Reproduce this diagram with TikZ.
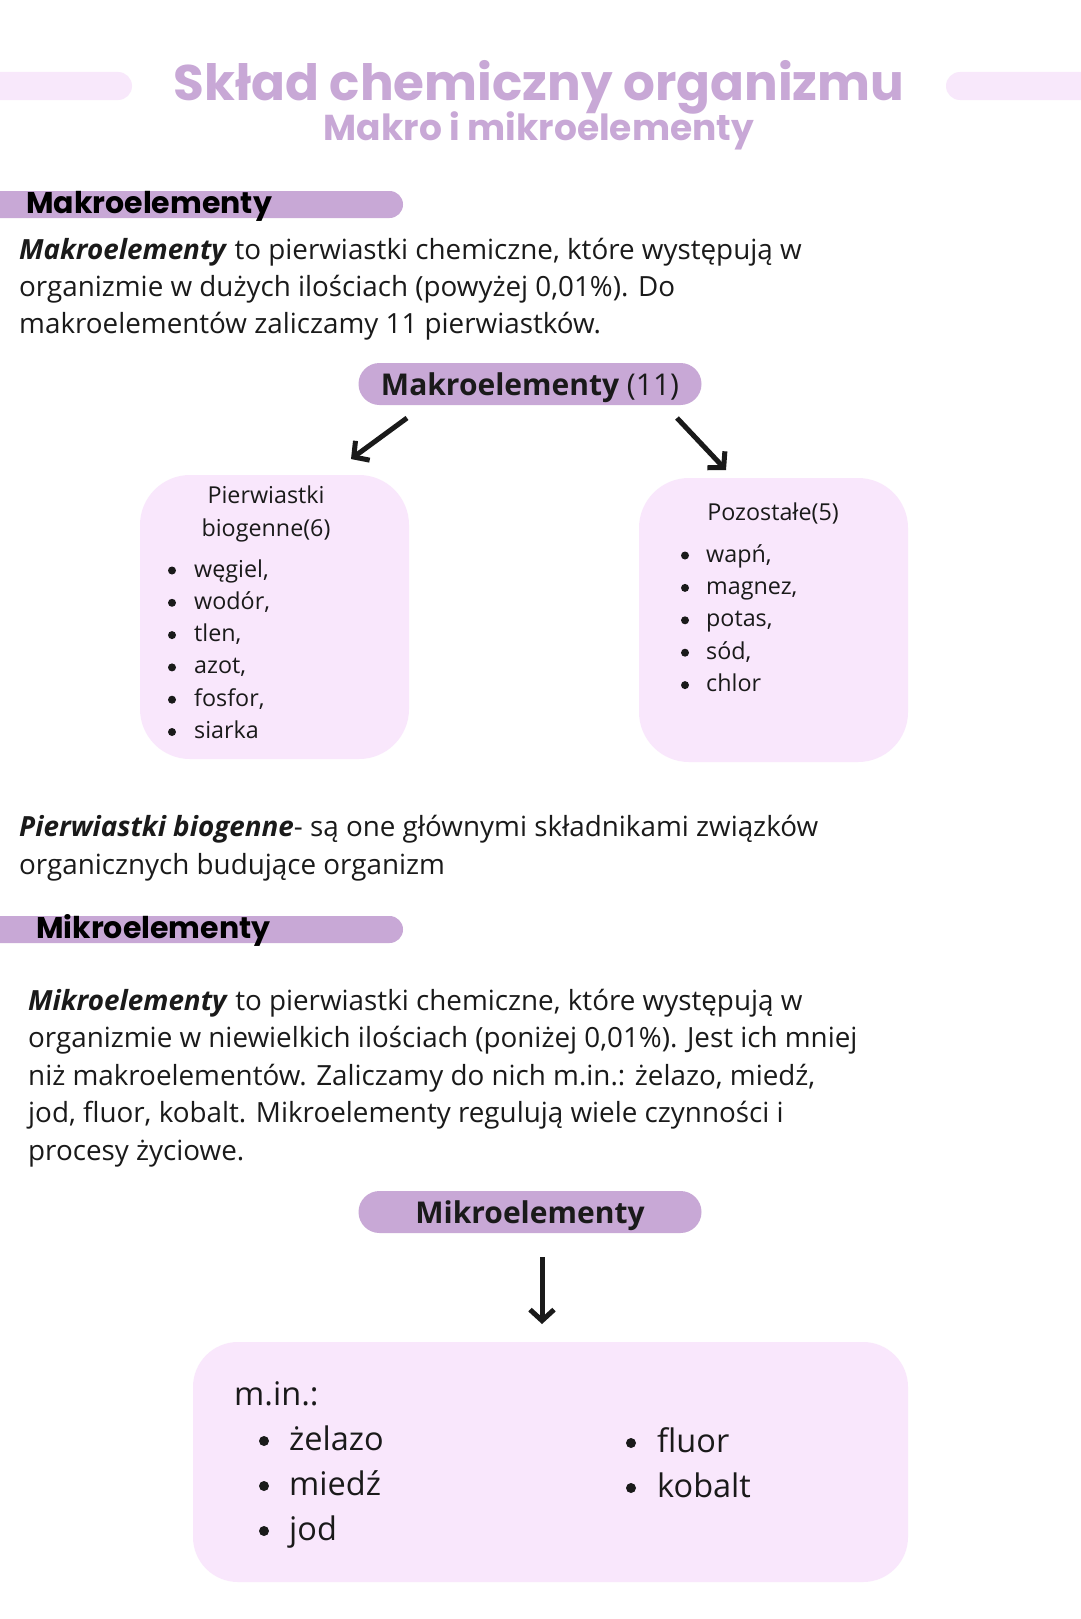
\documentclass[tikz,border=0pt]{standalone}
\usepackage{fontspec}
\setmainfont{Open Sans}
\newfontfamily\headfont{Poppins}
\usepackage{xcolor}
\usetikzlibrary{arrows.meta, positioning}

\definecolor{lilac}{HTML}{C8A8D6}
\definecolor{lilaclight}{HTML}{F9E7FC}
\definecolor{titlepink}{HTML}{F8E8FB}
\definecolor{ink}{HTML}{1A1A1A}

\tikzset{
  bar/.style={fill=lilac, rounded corners=13.5pt},
  pill/.style={fill=lilac, rounded corners=21pt, minimum width=343pt, minimum height=42pt,
    inner sep=0pt, text height=28pt, text depth=6pt, text=ink, font=\fontsize{30}{34}\selectfont},
  softbox/.style={fill=lilaclight, rounded corners=50pt, inner sep=0pt},
  arr/.style={-{Straight Barb[length=11pt, width=24pt]}, line width=5pt, ink},
  body/.style={anchor=base west, inner sep=0pt, text=ink, font=\fontsize{27.8}{37}\selectfont},
  small/.style={inner sep=0pt, text=ink, font=\fontsize{23.3}{32}\selectfont},
  large/.style={inner sep=0pt, text=ink, font=\fontsize{32.5}{44}\selectfont},
  dot/.style={circle, fill=ink, inner sep=0pt, minimum size=#1},
  head/.style={anchor=base west, inner sep=0pt, text=black, font=\headfont\bfseries\fontsize{30}{34}\selectfont}
}

\begin{document}
\begin{tikzpicture}[x=1pt, y=-1pt]
  \useasboundingbox[fill=white] (0,0) rectangle (1080,1619);

  % title
  \fill[titlepink, rounded corners=14pt] (-30,72) rectangle (132,100);
  \fill[titlepink, rounded corners=14pt] (946,72) rectangle (1110,100);
  \node[anchor=base, inner sep=0pt, text=lilac, font=\headfont\bfseries\fontsize{50}{56}\selectfont]
      (title) at (539,100) {Skład chemiczny organizmu};
  \node[anchor=base, inner sep=0pt, text=lilac, font=\headfont\bfseries\fontsize{36}{40}\selectfont]
      (subtitle) at (539,140) {Makro i mikroelementy};

  % makroelementy
  \fill[bar] (-30,191) rectangle (403,218);
  \node[head] (hmakro) at (26,213) {Makroelementy};

  \foreach \txt [count=\i] in {
      {\textbf{\textit{Makroelementy}} to pierwiastki chemiczne, które występują w},
      {organizmie w dużych ilościach (powyżej 0,01\%). Do},
      {makroelementów zaliczamy 11 pierwiastków.}}
    \node[body] (pmakro-\i) at (19,{259+37.3*(\i-1)}) {\txt};

  \node[pill] (makro) at (530,384) {\textbf{Makroelementy} (11)};

  \node[softbox, minimum width=269pt, minimum height=284pt] (biobox) at (274.5,617) {};
  \node[softbox, minimum width=269pt, minimum height=284pt] (restbox) at (773.5,620) {};

  \coordinate (la) at (407,418);
  \coordinate (lb) at (351,459);
  \coordinate (ra) at (677,418);
  \coordinate (rb) at (726,470);
  \draw[arr] (la) -- (lb);
  \draw[arr] (ra) -- (rb);

  \node[small, anchor=base] (biotitle) at (266,503) {Pierwiastki};
  \node[small, anchor=base] (biotitle2) at (266,536) {biogenne(6)};
  \foreach \elem [count=\i] in {{węgiel,}, {wodór,}, {tlen,}, {azot,}, {fosfor,}, {siarka}} {
    \node[dot=8pt] (biob-\i) at (172,{577-6.5+32.3*(\i-1)}) {};
    \node[small, anchor=base west] (bio-\i) at (194,{577+32.3*(\i-1)}) {\elem};
  }

  \node[small, anchor=base] (resttitle) at (773,520) {Pozostałe(5)};
  \foreach \elem [count=\i] in {{wapń,}, {magnez,}, {potas,}, {sód,}, {chlor}} {
    \node[dot=8pt] (restb-\i) at (685,{562-6.5+32.4*(\i-1)}) {};
    \node[small, anchor=base west] (rest-\i) at (706,{562+32.4*(\i-1)}) {\elem};
  }

  \foreach \txt [count=\i] in {
      {\textbf{\textit{Pierwiastki biogenne}}- są one głównymi składnikami związków},
      {organicznych budujące organizm}}
    \node[body] (pbio-\i) at (19,{836+38*(\i-1)}) {\txt};

  % mikroelementy
  \fill[bar] (-30,916) rectangle (403,943);
  \node[head] (hmikro) at (36,938) {Mikroelementy};

  \foreach \txt [count=\i] in {
      {\textbf{\textit{Mikroelementy}} to pierwiastki chemiczne, które występują w},
      {organizmie w niewielkich ilościach (poniżej 0,01\%). Jest ich mniej},
      {niż makroelementów. Zaliczamy do nich m.in.: żelazo, miedź,},
      {jod, fluor, kobalt. Mikroelementy regulują wiele czynności i},
      {procesy życiowe.}}
    \node[body] (pmikro-\i) at (28,{1010+37.5*(\i-1)}) {\txt};

  \node[pill] (mikro) at (530,1212) {\textbf{Mikroelementy}};

  \coordinate (da) at (542,1257);
  \coordinate (db) at (542,1324);
  \draw[arr] (da) -- (db);

  \node[softbox, rounded corners=45pt, minimum width=715pt, minimum height=240pt] (mikrobox) at (550.5,1462) {};
  \node[large, anchor=base west] (minus) at (234,1405) {m.in.:};
  \foreach \elem [count=\i] in {żelazo, miedź, jod} {
    \node[dot=10pt] (mikb-\i) at (264,{1450-9+45*(\i-1)}) {};
    \node[large, anchor=base west] (mik-\i) at (289,{1450+45*(\i-1)}) {\elem};
  }
  \foreach \elem [count=\i] in {fluor, kobalt} {
    \node[dot=10pt] (mikrb-\i) at (631,{1452-9+45*(\i-1)}) {};
    \node[large, anchor=base west] (mikr-\i) at (657,{1452+45*(\i-1)}) {\elem};
  }
\end{tikzpicture}
\end{document}
